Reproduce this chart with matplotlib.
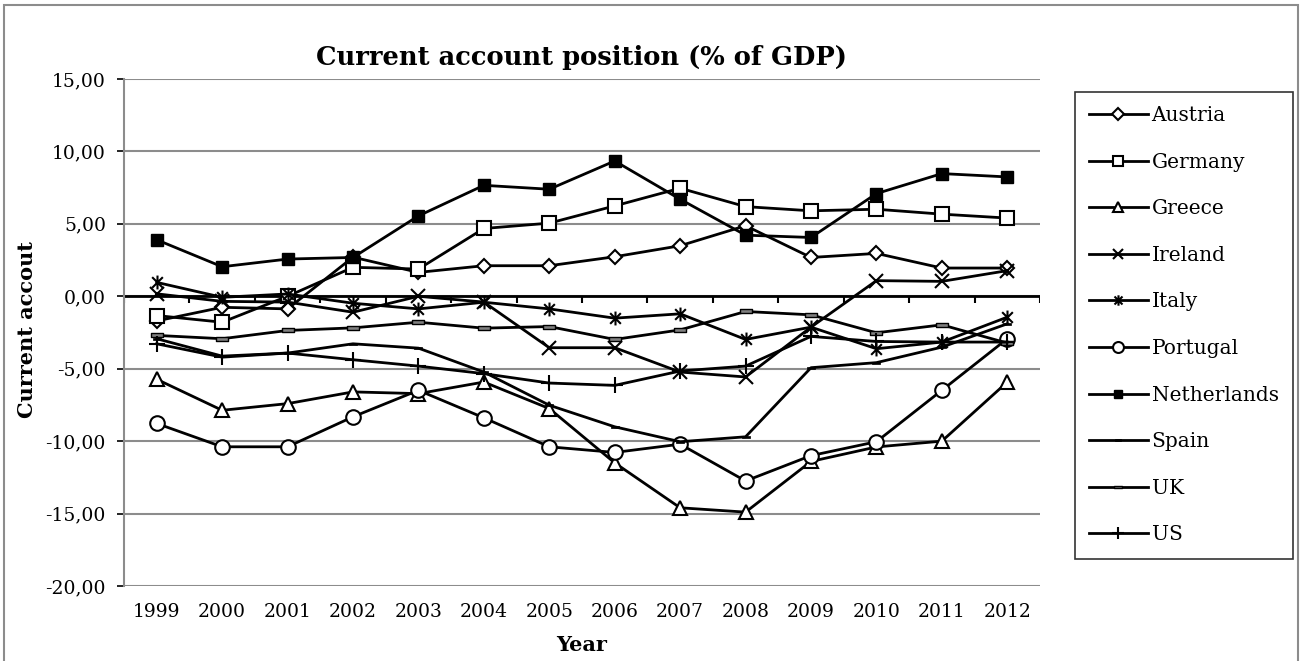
import numpy as np
import matplotlib
matplotlib.use("Agg")
import matplotlib.pyplot as plt
from matplotlib.path import Path
from matplotlib.patches import Rectangle

# Cari işlemler dengesi (% GSYH)
years = [1999, 2000, 2001, 2002, 2003, 2004, 2005, 2006, 2007, 2008, 2009, 2010, 2011, 2012]
year_labels = [str(y) for y in years]

austria = [-1.70, -0.76, -0.87, 2.70, 1.65, 2.11, 2.11, 2.73, 3.49, 4.87, 2.68, 2.96, 1.95, 1.95]
germany = [-1.33, -1.79, 0.00, 2.00, 1.88, 4.68, 5.05, 6.24, 7.46, 6.19, 5.90, 6.01, 5.67, 5.40]
greece = [-5.73, -7.87, -7.41, -6.60, -6.72, -5.92, -7.75, -11.50, -14.60, -14.90, -11.40, -10.40, -10.00, -5.92]
ireland = [0.17, -0.35, -0.40, -1.10, 0.00, -0.40, -3.55, -3.55, -5.23, -5.57, -2.13, 1.08, 1.03, 1.77]
italy = [0.96, -0.07, 0.16, -0.48, -0.87, -0.41, -0.87, -1.51, -1.21, -2.98, -2.13, -3.62, -3.16, -1.44]
portugal = [-8.78, -10.39, -10.39, -8.32, -6.49, -8.39, -10.39, -10.78, -10.21, -12.75, -11.00, -10.04, -6.49, -2.93]
netherlands = [3.90, 2.04, 2.57, 2.68, 5.55, 7.66, 7.39, 9.34, 6.70, 4.22, 4.06, 7.09, 8.47, 8.24]
spain = [-2.93, -4.13, -3.92, -3.28, -3.58, -5.23, -7.52, -9.01, -10.04, -9.70, -4.93, -4.58, -3.51, -1.90]
uk = [-2.70, -2.93, -2.36, -2.18, -1.79, -2.20, -2.09, -2.98, -2.32, -1.05, -1.28, -2.52, -1.97, -3.23]
us = [-3.28, -4.20, -3.92, -4.38, -4.82, -5.34, -5.99, -6.15, -5.16, -4.82, -2.77, -3.12, -3.16, -3.16]

y_ticks = [15, 10, 5, 0, -5, -10, -15, -20]

plt.rcParams['font.family'] = ['DejaVu Serif']

# Excel "asterisk" işareti: x + dikey çizgi
asterisk = Path([(-1, -1), (1, 1), (-1, 1), (1, -1), (0, -1.3), (0, 1.3)],
                [Path.MOVETO, Path.LINETO, Path.MOVETO, Path.LINETO, Path.MOVETO, Path.LINETO])
dash = Path([(-1, -0.35), (1, -0.35), (1, 0.35), (-1, 0.35), (-1, -0.35)],
            [Path.MOVETO, Path.LINETO, Path.LINETO, Path.LINETO, Path.CLOSEPOLY])

series = [
    ("Austria", austria, dict(marker="D", markersize=7.5, mfc="white", mec="black", mew=1.5)),
    ("Germany", germany, dict(marker="s", markersize=10.5, mfc="white", mec="black", mew=1.5)),
    ("Greece", greece, dict(marker="^", markersize=10.5, mfc="white", mec="black", mew=1.5)),
    ("Ireland", ireland, dict(marker="x", markersize=10, mec="black", mew=1.5)),
    ("Italy", italy, dict(marker=asterisk, markersize=10, mec="black", mew=1.5)),
    ("Portugal", portugal, dict(marker="o", markersize=10.5, mfc="white", mec="black", mew=1.5)),
    ("Netherlands", netherlands, dict(marker="s", markersize=8.5, mfc="black", mec="black", mew=1)),
    ("Spain", spain, dict(marker=dash, markersize=6, mfc="black", mec="black", mew=0.5)),
    ("UK", uk, dict(marker=dash, markersize=8, mfc="#808080", mec="black", mew=1)),
    ("US", us, dict(marker="+", markersize=11, mec="black", mew=1.5)),
]

fig = plt.figure(figsize=(13.02, 6.61), dpi=100)
ax = fig.add_axes([124 / 1302, 1 - 586 / 661, 916 / 1302, 507 / 661])

x = np.arange(len(years))
handles = []
for name, vals, style in series:
    h, = ax.plot(x, vals, color="black", lw=2, label=name, **style)
    handles.append(h)

ax.set_xlim(-0.5, len(years) - 0.5)
ax.set_ylim(-20, 15)
ax.set_yticks(y_ticks)
ax.set_yticklabels([("%.2f" % v).replace(".", ",") for v in y_ticks])
ax.yaxis.grid(True, color="#8c8c8c", lw=1.5)
ax.set_axisbelow(True)
ax.set_xticks(x)
ax.set_xticklabels(year_labels)
ax.tick_params(axis="x", length=0, pad=12, labelsize=13.5)
ax.tick_params(axis="y", length=5, width=1.2, pad=8, labelsize=13.5)
for s in ["top", "right", "bottom"]:
    ax.spines[s].set_visible(False)
ax.spines["left"].set_color("#8c8c8c")
ax.spines["left"].set_linewidth(1.5)

# sıfır ekseni ve kategori çentikleri
ax.axhline(0, color="black", lw=2, zorder=1.5)
ax.vlines(np.arange(len(years) + 1) - 0.5, -0.45, 0, color="black", lw=1.5, zorder=1.5)

ax.set_title("Current account position (% of GDP)", fontsize=18.5, fontweight="bold", pad=10)
fig.text(0.021, 1 - 330 / 661, "Current accout", rotation=90, fontsize=15, fontweight="bold",
         ha="center", va="center")
fig.text(582 / 1302, 1 - 645 / 661, "Year", fontsize=15, fontweight="bold", ha="center", va="center")

leg = fig.legend(handles=handles, loc="upper left", bbox_to_anchor=(1075 / 1302, 1 - 92 / 661),
                 frameon=True, fancybox=False, edgecolor="black", fontsize=14.5,
                 labelspacing=1.37, handlelength=2.9, handletextpad=0.2, borderaxespad=0,
                 borderpad=0.7, markerscale=0.75)
leg.get_frame().set_linewidth(1.2)

fig.patches.append(Rectangle((4 / 1302, -0.01), 1294 / 1302, 1.003, transform=fig.transFigure,
                             fill=False, edgecolor="#8c8c8c", lw=1.5))

plt.savefig("out.png", dpi=100)
